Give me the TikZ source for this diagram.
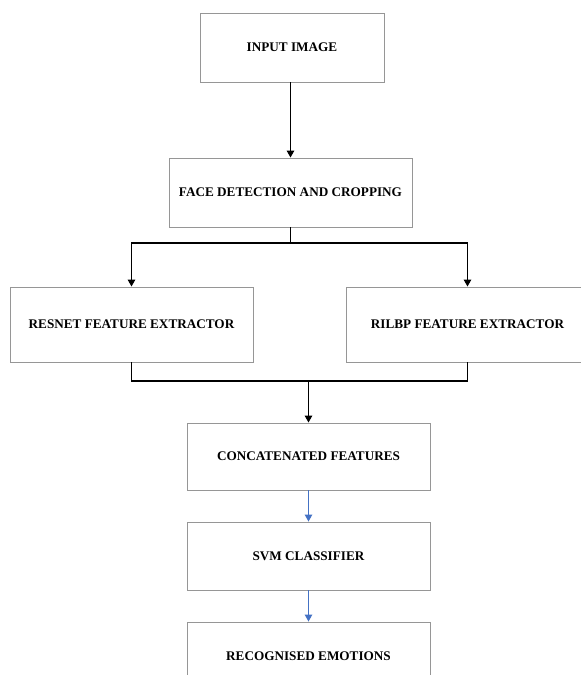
\documentclass[tikz,border=0pt]{standalone}
\usepackage{fontspec}
\setmainfont{Liberation Serif}
\usetikzlibrary{arrows.meta}
\definecolor{boxgray}{RGB}{150,150,150}
\definecolor{arrblue}{RGB}{68,114,196}
\tikzset{
  box/.style={draw=boxgray, line width=0.9pt, fill=white, inner sep=0pt,
    font=\fontsize{13.2}{15}\selectfont\bfseries},
  arr/.style={line width=1.3pt, black, -{Triangle[length=7pt,width=7.5pt]}},
  barr/.style={line width=1.1pt, arrblue, -{Triangle[length=7pt,width=7.5pt]}},
  plain/.style={line width=1.3pt, black}
}
\begin{document}
\begin{tikzpicture}[x=1pt,y=-1pt]
\useasboundingbox (0,0) rectangle (581,675);
\clip (0,0) rectangle (581,675);
\fill[white] (0,0) rectangle (581,675);
\node[box, minimum width=184pt, minimum height=69pt] (in) at (292,47.5) {INPUT IMAGE};
\node[box, minimum width=243pt, minimum height=69pt] (face) at (290.5,192.5) {FACE DETECTION AND CROPPING};
\node[box, minimum width=243pt, minimum height=75pt] (resnet) at (131.5,324.5) {RESNET FEATURE EXTRACTOR};
\node[box, minimum width=243pt, minimum height=75pt] (rilbp) at (467.5,324.5) {RILBP FEATURE EXTRACTOR};
\node[box, minimum width=243pt, minimum height=67pt] (concat) at (308.5,456.5) {CONCATENATED FEATURES};
\node[box, minimum width=243pt, minimum height=68pt] (svm) at (308.5,556) {SVM CLASSIFIER};
\node[box, minimum width=243pt, minimum height=68pt] (rec) at (308.5,656) {RECOGNISED EMOTIONS};
\coordinate (split) at (290.5,243);
\coordinate (merge) at (308.5,381);
\draw[arr] (in.south -| face.north) -- (face.north);
\draw[plain] (face.south) -- (split);
\draw[arr] (split) -| (resnet.north);
\draw[arr] (split) -| (rilbp.north);
\draw[plain] (resnet.south) |- (merge) -| (rilbp.south);
\draw[arr] (merge) -- (concat.north);
\draw[barr] (concat.south) -- (svm.north);
\draw[barr] (svm.south) -- (rec.north);
\end{tikzpicture}
\end{document}
